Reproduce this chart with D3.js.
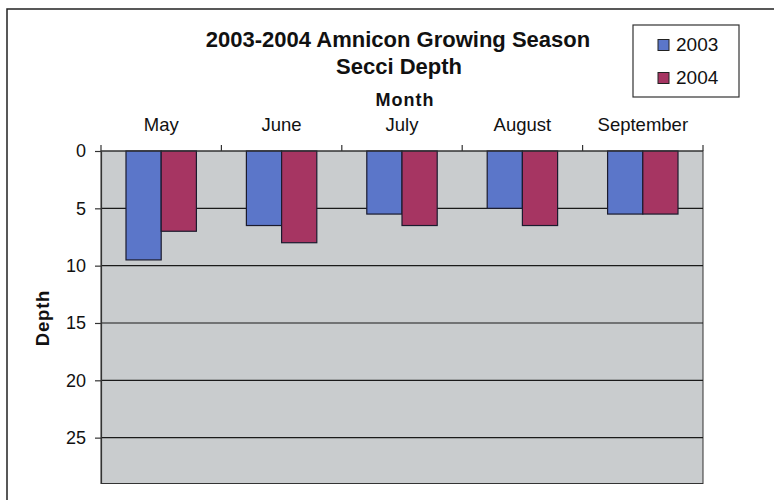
<!DOCTYPE html>
<html>
<head>
<meta charset="utf-8">
<script src="https://cdn.jsdelivr.net/npm/d3@7"></script>
<style>
  html, body { margin: 0; padding: 0; background: #fff; }
  svg { display: block; font-family: "Liberation Sans", Arial, sans-serif; }
</style>
</head>
<body>
<svg id="chart" width="774" height="500"></svg>
<script>
// Monthly Secchi depth readings, Amnicon growing season
const months = ["May", "June", "July", "August", "September"];
const years = ["2003", "2004"];
const depth2003 = [9.5, 6.5, 5.5, 5, 5.5];
const depth2004 = [7, 8, 6.5, 6.5, 5.5];
const depthTicks = [0, 5, 10, 15, 20, 25];
const colors = { "2003": "#5b76c9", "2004": "#a63562" };

const svg = d3.select("#chart");
const plot = { left: 101, right: 703, top: 151, bottom: 483.5 };
const FONT = "'Liberation Sans', Arial, sans-serif";

// Outer chart frame
svg.append("rect")
  .attr("x", 7).attr("y", 9)
  .attr("width", 800).attr("height", 520)
  .attr("fill", "none").attr("stroke", "#222").attr("stroke-width", 1.5);

const x0 = d3.scaleBand().domain(months).range([plot.left, plot.right]).padding(0);
const x1 = d3.scaleBand().domain(years).range([0, x0.bandwidth()])
  .paddingInner(0).paddingOuter(0.71);
const y = d3.scaleLinear().domain([0, 29]).range([plot.top, plot.bottom]);

// Plot area
svg.append("rect")
  .attr("x", plot.left).attr("y", plot.top)
  .attr("width", plot.right - plot.left).attr("height", plot.bottom - plot.top)
  .attr("fill", "#c9ccce").attr("stroke", "#333").attr("stroke-width", 1);

// Gridlines
svg.append("g").selectAll("line")
  .data(depthTicks.filter(d => d > 0))
  .join("line")
  .attr("x1", plot.left).attr("x2", plot.right)
  .attr("y1", d => y(d)).attr("y2", d => y(d))
  .attr("stroke", "#1a1a1a").attr("stroke-width", 1.2);

// Bars
const rows = months.map((m, i) => ({ month: m, values: [
  { year: "2003", v: depth2003[i] },
  { year: "2004", v: depth2004[i] }
]}));

svg.append("g").selectAll("g")
  .data(rows)
  .join("g")
  .attr("transform", d => `translate(${x0(d.month)},0)`)
  .selectAll("rect")
  .data(d => d.values)
  .join("rect")
  .attr("x", d => x1(d.year))
  .attr("y", y(0))
  .attr("width", x1.bandwidth())
  .attr("height", d => y(d.v) - y(0))
  .attr("fill", d => colors[d.year])
  .attr("stroke", "#1b1b2e").attr("stroke-width", 1.2);

// Left axis (depth increasing downward)
const yAxis = svg.append("g")
  .attr("transform", `translate(${plot.left},0)`)
  .call(d3.axisLeft(y).tickValues(depthTicks).tickSize(6).tickSizeOuter(0).tickPadding(9));
yAxis.select(".domain").attr("stroke", "#333").attr("stroke-width", 1.2);
yAxis.selectAll(".tick line").attr("stroke", "#333").attr("stroke-width", 1.2);
yAxis.selectAll(".tick text")
  .attr("font-size", 18).attr("fill", "#111")
  .attr("font-family", FONT);

// Top axis with category separators
const sepTicks = months.map(m => x0(m)).concat([plot.right]);
const topAxis = svg.append("g");
topAxis.append("line")
  .attr("x1", plot.left).attr("x2", plot.right)
  .attr("y1", plot.top).attr("y2", plot.top)
  .attr("stroke", "#333").attr("stroke-width", 1.2);
topAxis.selectAll("line.sep")
  .data(sepTicks)
  .join("line").attr("class", "sep")
  .attr("x1", d => d).attr("x2", d => d)
  .attr("y1", plot.top - 6).attr("y2", plot.top)
  .attr("stroke", "#333").attr("stroke-width", 1.2);
topAxis.selectAll("text")
  .data(months)
  .join("text")
  .attr("x", d => x0(d) + x0.bandwidth() / 2)
  .attr("y", 131)
  .attr("text-anchor", "middle")
  .attr("font-size", 18.5).attr("fill", "#111")
  .text(d => d);

// Titles
svg.append("text")
  .attr("x", 398).attr("y", 47)
  .attr("text-anchor", "middle")
  .attr("font-size", 22).attr("font-weight", "bold").attr("fill", "#111")
  .text("2003-2004 Amnicon Growing Season");
svg.append("text")
  .attr("x", 399).attr("y", 74)
  .attr("text-anchor", "middle")
  .attr("font-size", 22).attr("font-weight", "bold").attr("fill", "#111")
  .text("Secci Depth");
svg.append("text")
  .attr("x", 405).attr("y", 106)
  .attr("text-anchor", "middle")
  .attr("font-size", 18).attr("font-weight", "bold").attr("fill", "#111")
  .attr("letter-spacing", 1)
  .text("Month");
svg.append("text")
  .attr("transform", "translate(49,318) rotate(-90)")
  .attr("text-anchor", "middle")
  .attr("font-size", 18.5).attr("font-weight", "bold").attr("fill", "#111")
  .attr("letter-spacing", 0.8)
  .text("Depth");

// Legend
const legend = svg.append("g");
legend.append("rect")
  .attr("x", 633).attr("y", 25).attr("width", 106).attr("height", 72)
  .attr("fill", "#fff").attr("stroke", "#333").attr("stroke-width", 1.2);
const items = legend.selectAll("g.item")
  .data(years)
  .join("g").attr("class", "item")
  .attr("transform", (d, i) => `translate(0,${i * 33})`);
items.append("rect")
  .attr("x", 658).attr("y", 39.5).attr("width", 11).attr("height", 11)
  .attr("fill", d => colors[d]).attr("stroke", "#222").attr("stroke-width", 1);
items.append("text")
  .attr("x", 676).attr("y", 51)
  .attr("font-size", 19).attr("fill", "#111")
  .text(d => d);
</script>
</body>
</html>
